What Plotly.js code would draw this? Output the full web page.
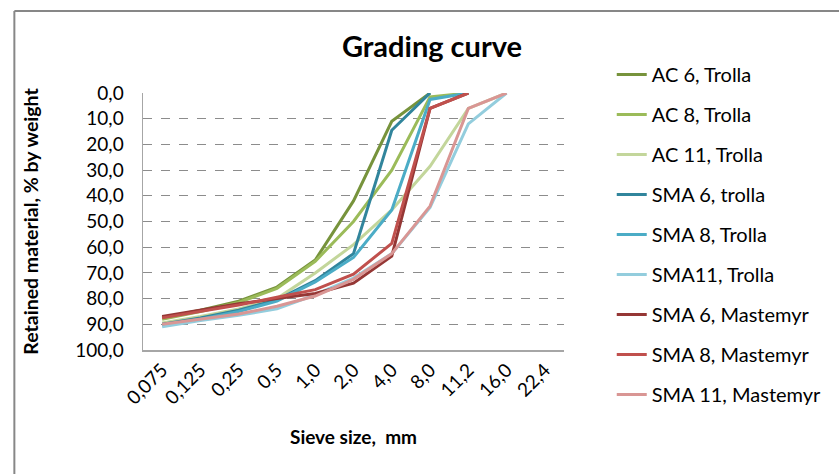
<!DOCTYPE html>
<html>
<head>
<meta charset="utf-8">
<script src="https://cdn.plot.ly/plotly-3.0.1.min.js"></script>
<style>
html,body{margin:0;padding:0;background:#fff;}
#chart{width:839px;height:474px;}
</style>
</head>
<body>
<div id="chart"></div>
<script>
const sieveSizes = ['0,075','0,125','0,25','0,5','1,0','2,0','4,0','8,0','11,2','16,0','22,4'];

const seriesNames = ['AC 6, Trolla','AC 8, Trolla','AC 11, Trolla','SMA 6, trolla','SMA 8, Trolla','SMA11, Trolla','SMA 6, Mastemyr','SMA 8, Mastemyr','SMA 11, Mastemyr'];

const ac6Trolla    = [87.5, 84.5, 81.0, 75.5, 65.0, 42.0, 11.0, 0.0, null, null, null];
const ac8Trolla    = [88.0, 85.0, 81.5, 76.0, 65.5, 50.0, 30.0, 1.5, 0.0, null, null];
const ac11Trolla   = [89.5, 87.0, 84.0, 80.0, 70.0, 59.0, 45.5, 28.5, 6.0, 0.0, null];
const sma6Trolla   = [90.0, 87.5, 84.5, 80.5, 73.0, 62.5, 14.5, 0.0, null, null, null];
const sma8Trolla   = [90.5, 88.0, 85.0, 81.0, 73.5, 64.0, 45.5, 2.5, 0.0, null, null];
const sma11Trolla  = [91.0, 88.5, 86.5, 84.0, 78.5, 72.0, 62.5, 44.5, 12.0, 0.0, null];
const sma6Mastemyr = [87.0, 84.5, 82.0, 80.0, 78.0, 74.0, 63.5, 6.0, 0.0, null, null];
const sma8Mastemyr = [87.5, 85.0, 82.5, 79.5, 76.5, 70.5, 58.5, 6.0, 0.0, null, null];
const sma11Mastemyr= [90.0, 88.0, 86.0, 83.0, 79.0, 72.5, 62.5, 44.0, 6.0, 0.0, null];

const seriesValues = [ac6Trolla, ac8Trolla, ac11Trolla, sma6Trolla, sma8Trolla, sma11Trolla, sma6Mastemyr, sma8Mastemyr, sma11Mastemyr];
const colors = ['#77933C','#9BBB59','#C3D69B','#31859C','#4BACC6','#93CDDD','#953735','#C0504D','#D99694'];

const font = 'Lato, "Open Sans", sans-serif';

const traces = seriesValues.map((vals, i) => ({
  x: sieveSizes,
  y: vals,
  name: seriesNames[i],
  type: 'scatter',
  mode: 'lines',
  legendgroup: 'g' + i,
  line: {color: colors[i], width: 3},
  connectgaps: false,
  hoverinfo: 'x+y+name'
}));

const L = 143, R = 264, T = 93, B = 124;
const pw = 839 - L - R, ph = 474 - T - B;
const px = v => (v - L) / pw;
const py = v => 1 - (v - T) / ph;

const layout = {
  width: 839, height: 474,
  margin: {l: L, r: R, t: T, b: B, pad: 0},
  paper_bgcolor: '#ffffff',
  plot_bgcolor: '#ffffff',
  separators: ',.',
  font: {family: font, color: '#000', size: 18},
  title: {
    text: '<b>Grading curve</b>',
    font: {family: font, size: 29, color: '#000'},
    x: 432/839, xanchor: 'center', xref: 'container',
    y: 1 - 47/474, yanchor: 'middle', yref: 'container'
  },
  xaxis: {
    type: 'category',
    range: [-0.5, 10.5],
    tickangle: -45,
    showgrid: false,
    showline: true, linecolor: '#A6A6A6', linewidth: 1.5,
    ticks: '',
    tickfont: {family: font, size: 19, color: '#000'},
    title: {text: '<b>Sieve size,  mm</b>', font: {family: font, size: 19, color: '#000'}, standoff: 23},
    zeroline: false
  },
  yaxis: {
    range: [100, 0],
    dtick: 10, tick0: 0,
    tickformat: '.1f',
    showgrid: true, gridcolor: '#8C8C8C', griddash: 'dash', gridwidth: 1,
    showline: true, linecolor: '#A6A6A6', linewidth: 1.5,
    ticks: '',
    ticklen: 0,
    ticklabelstandoff: 14,
    tickfont: {family: font, size: 19, color: '#000'},
    title: {text: '<b>Retained material, % by weight</b>', font: {family: font, size: 19.5, color: '#000'}, standoff: 31},
    zeroline: false
  },
  showlegend: true,
  legend: {
    x: px(624), y: py(55), xanchor: 'left', yanchor: 'top',
    font: {family: font, size: 20, color: '#000'},
    traceorder: 'grouped',
    tracegroupgap: 11,
    bgcolor: 'rgba(0,0,0,0)',
    itemwidth: 30,
    maxheight: 460
  },
  shapes: [
    {type: 'line', xref: 'paper', yref: 'paper', x0: px(11), x1: px(860), y0: py(11), y1: py(11), line: {color: '#878787', width: 2}},
    {type: 'line', xref: 'paper', yref: 'paper', x0: px(11), x1: px(11), y0: py(11), y1: py(490), line: {color: '#878787', width: 2}}
  ]
};

Plotly.newPlot('chart', traces, layout, {displayModeBar: false, staticPlot: true});
</script>
</body>
</html>
